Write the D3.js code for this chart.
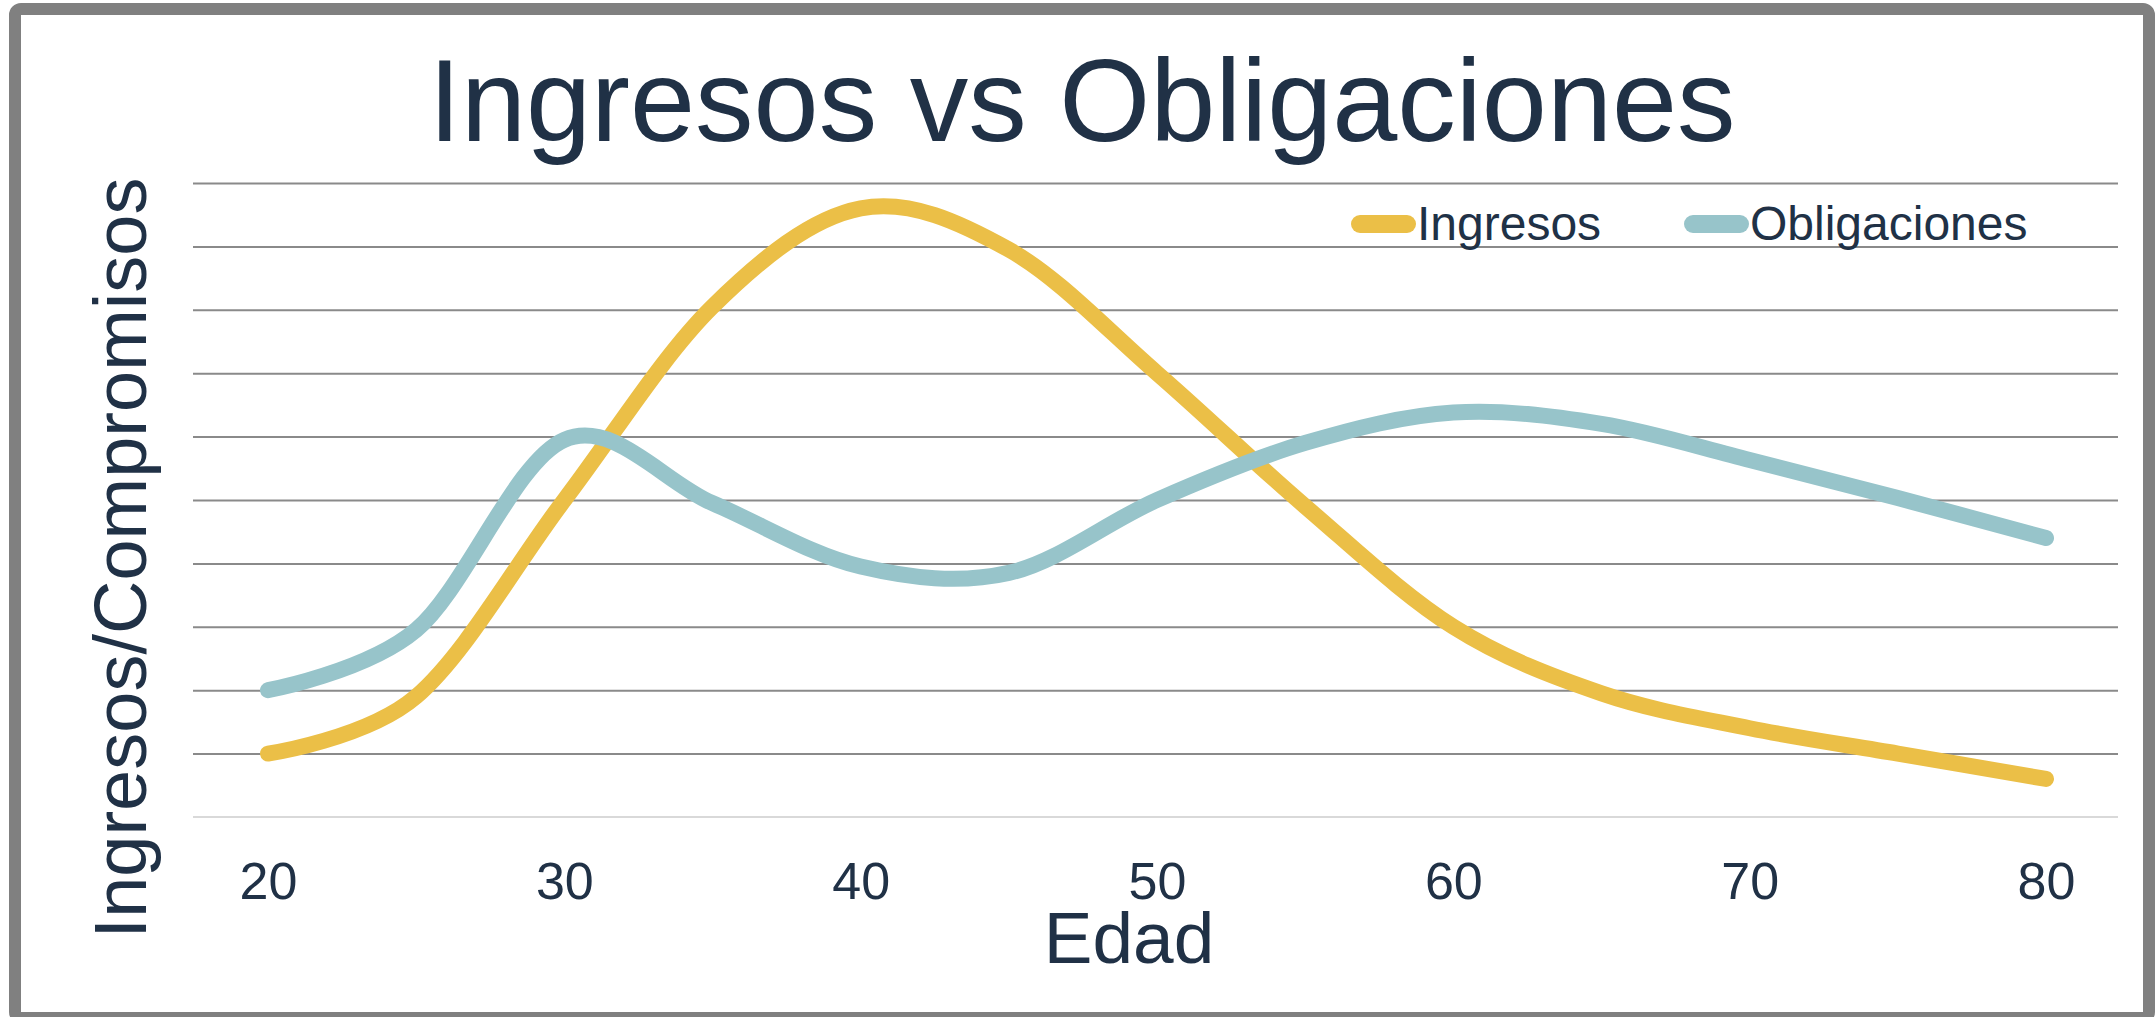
<!DOCTYPE html>
<html>
<head>
<meta charset="utf-8">
<script src="https://cdnjs.cloudflare.com/ajax/libs/d3/7.8.5/d3.min.js"></script>
<style>
    body { margin: 0; background: #ffffff; }
    svg { display: block; font-family: "Liberation Sans", Arial, sans-serif; }
    .grid line { stroke: #8a8a8a; stroke-width: 2; }
    .grid .domain { display: none; }
    .xaxis .domain { display: none; }
    .xaxis text { fill: #203146; font-size: 52px; }
</style>
</head>
<body>
<div id="chart"></div>
<script>
// Edad (x) values
var edades = [20, 25, 30, 35, 40, 45, 50, 55, 60, 65, 70, 75, 80];
var ingresos = [1.0, 1.9, 5.0, 8.05, 9.6, 8.95, 7.0, 4.9, 3.0, 1.95, 1.4, 1.0, 0.6];
var obligaciones = [2.0, 2.95, 5.95, 4.95, 3.95, 3.85, 5.0, 5.9, 6.38, 6.2, 5.63, 5.03, 4.4];
var xTicks = [20, 30, 40, 50, 60, 70, 80];
var yGrid = [1, 2, 3, 4, 5, 6, 7, 8, 9, 10];
var seriesNames = ["Ingresos", "Obligaciones"];
var seriesColors = ["#ebbf47", "#97c4ca"];

var W = 2155, H = 1017;
var textColor = "#203146";

function docMain() {
    var svg = d3.select("#chart").append("svg")
        .attr("width", W)
        .attr("height", H);

    // outer frame
    svg.append("rect")
        .attr("x", 15).attr("y", 9)
        .attr("width", 2134).attr("height", 1009)
        .attr("rx", 6)
        .attr("fill", "#ffffff")
        .attr("stroke", "#808080")
        .attr("stroke-width", 12);

    var left = 193, right = 2118;
    var x = d3.scaleLinear().domain([20, 80]).range([268, 2046]);
    var y = d3.scaleLinear().domain([0, 10]).range([817, 183]);

    // horizontal gridlines
    svg.append("g")
        .attr("class", "grid")
        .attr("transform", "translate(" + left + ",0)")
        .call(d3.axisLeft(y).tickValues(yGrid).tickSize(-(right - left)).tickFormat(""));

    // baseline
    svg.append("line")
        .attr("x1", left).attr("x2", right)
        .attr("y1", y(0)).attr("y2", y(0))
        .attr("stroke", "#d9d9d9")
        .attr("stroke-width", 2);

    // x axis labels
    svg.append("g")
        .attr("class", "xaxis")
        .attr("transform", "translate(0," + y(0) + ")")
        .call(d3.axisBottom(x).tickValues(xTicks).tickSize(0).tickPadding(45));

    // lines
    var all = [ingresos, obligaciones];
    var line = d3.line()
        .x(function(d) { return x(d[0]); })
        .y(function(d) { return y(d[1]); })
        .curve(d3.curveCardinal.tension(0));

    for (var s = 0; s < all.length; s++) {
        var pts = edades.map(function(e, i) { return [e, all[s][i]]; });
        svg.append("path")
            .datum(pts)
            .attr("d", line)
            .attr("fill", "none")
            .attr("stroke", seriesColors[s])
            .attr("stroke-width", 16)
            .attr("stroke-linecap", "round")
            .attr("stroke-linejoin", "round");
    }

    // legend
    var legX = [1360, 1693];
    for (var k = 0; k < seriesNames.length; k++) {
        svg.append("line")
            .attr("x1", legX[k]).attr("x2", legX[k] + 47)
            .attr("y1", 224).attr("y2", 224)
            .attr("stroke", seriesColors[k])
            .attr("stroke-width", 18)
            .attr("stroke-linecap", "round");
        svg.append("text")
            .attr("x", legX[k] + 57)
            .attr("y", 240)
            .attr("fill", textColor)
            .style("font-size", "48px")
            .text(seriesNames[k]);
    }

    // title
    svg.append("text")
        .attr("x", 1082).attr("y", 141)
        .attr("text-anchor", "middle")
        .attr("fill", textColor)
        .style("font-size", "117px")
        .text("Ingresos vs Obligaciones");

    // axis titles
    svg.append("text")
        .attr("x", 1129).attr("y", 963)
        .attr("text-anchor", "middle")
        .attr("fill", textColor)
        .style("font-size", "73px")
        .text("Edad");

    svg.append("text")
        .attr("transform", "translate(146,558) rotate(-90)")
        .attr("text-anchor", "middle")
        .attr("fill", textColor)
        .style("font-size", "74px")
        .text("Ingresos/Compromisos");
}

docMain();
</script>
</body>
</html>
